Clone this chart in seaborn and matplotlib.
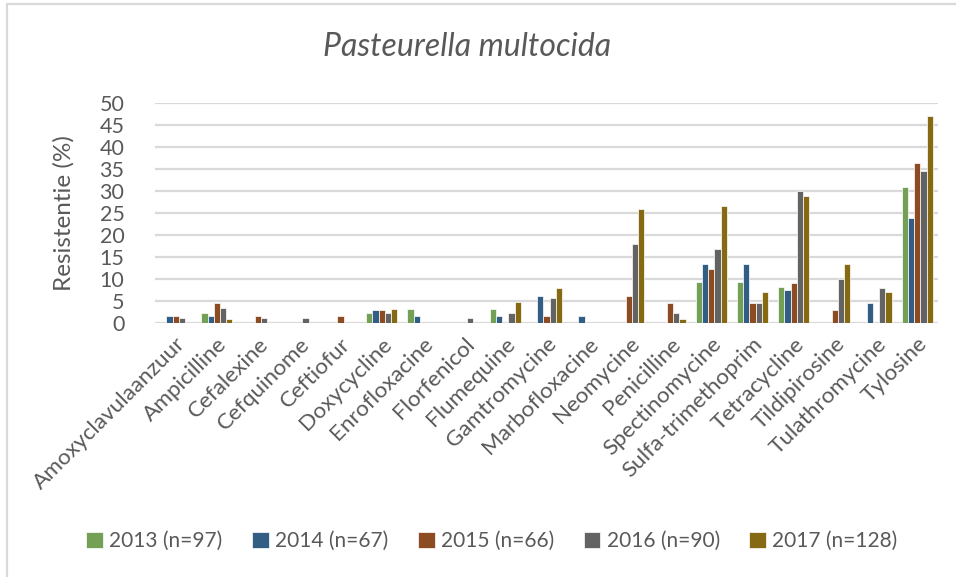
import numpy as np
import pandas as pd
import matplotlib
matplotlib.use("Agg")
import matplotlib.pyplot as plt
from matplotlib.lines import Line2D
import seaborn as sns

nan = np.nan
categories = ["Amoxyclavulaanzuur", "Ampicilline", "Cefalexine", "Cefquinome", "Ceftiofur",
              "Doxycycline", "Enrofloxacine", "Florfenicol", "Flumequine", "Gamtromycine",
              "Marbofloxacine", "Neomycine", "Penicilline", "Spectinomycine",
              "Sulfa-trimethoprim", "Tetracycline", "Tildipirosine", "Tulathromycine", "Tylosine"]
series_labels = ["2013 (n=97)", "2014 (n=67)", "2015 (n=66)", "2016 (n=90)", "2017 (n=128)"]
v2013 = [nan, 2.1, nan, nan, nan, 2.1, 3.1, nan, 3.1, nan, nan, nan, nan, 9.3, 9.3, 8.2, nan, nan, 30.9]
v2014 = [1.5, 1.5, nan, nan, nan, 3.0, 1.5, nan, 1.5, 6.0, 1.5, nan, nan, 13.4, 13.4, 7.5, nan, 4.5, 23.9]
v2015 = [1.5, 4.5, 1.5, nan, 1.5, 3.0, nan, nan, nan, 1.5, nan, 6.1, 4.5, 12.1, 4.5, 9.1, 3.0, nan, 36.4]
v2016 = [1.1, 3.3, 1.1, 1.1, nan, 2.2, nan, 1.1, 2.2, 5.6, nan, 17.8, 2.2, 16.7, 4.4, 30.0, 10.0, 7.8, 34.4]
v2017 = [nan, 0.8, nan, nan, nan, 3.1, nan, nan, 4.7, 7.8, nan, 25.8, 0.8, 26.6, 7.0, 28.9, 13.3, 7.0, 46.9]
colors = ["#70AD47", "#255E91", "#9E480E", "#636363", "#997300"]
yticks = [0, 5, 10, 15, 20, 25, 30, 35, 40, 45, 50]

rows = []
for lab, vals in zip(series_labels, [v2013, v2014, v2015, v2016, v2017]):
    for c, v in zip(categories, vals):
        rows.append({"cat": c, "year": lab, "val": v})
df = pd.DataFrame(rows)

sns.set_theme(style="white")
plt.rcParams["font.family"] = ["Lato", "DejaVu Sans"]
txt = "#595959"

fig = plt.figure(figsize=(9.56, 5.77), dpi=100)
ax = fig.add_axes([155/956, 1-322.7/577, (938-155)/956, 220/577])

sns.barplot(data=df, x="cat", y="val", hue="year", order=categories, hue_order=series_labels,
            palette=colors, width=0.75, errorbar=None, ax=ax, edgecolor="white", linewidth=0.5,
            legend=True, zorder=3)

ax.set_ylim(0, 50)
ax.set_xlim(-0.5, len(categories) - 0.5)
ax.set_yticks(yticks)
ax.set_yticklabels([str(t) for t in yticks], fontsize=15.5, color=txt)
ax.yaxis.grid(True, color="#D9D9D9", linewidth=1.6, zorder=0)
ax.set_axisbelow(True)
for s in ax.spines.values():
    s.set_visible(False)
ax.tick_params(axis="both", length=0)
ax.tick_params(axis="y", pad=22)
ax.set_xlabel("")
ax.set_ylabel("Resistentie (%)", fontsize=17.5, color=txt, labelpad=18)
ax.set_xticks(range(len(categories)))
ax.set_xticklabels(categories, rotation=45, ha="right", rotation_mode="anchor",
                   fontsize=16.2, color=txt)
ax.tick_params(axis="x", pad=8)

handles, labels = ax.get_legend_handles_labels()
ax.legend_.remove()
fig.legend(handles, labels, loc="center", bbox_to_anchor=(492/956, 1-541/577), ncol=5,
           frameon=False, fontsize=15, labelcolor=txt, handlelength=0.8, handleheight=0.8,
           handletextpad=0.3, columnspacing=1.42)

fig.text(467/956, 1-47/577, "Pasteurella multocida", ha="center", va="center",
         fontsize=23, style="italic", color=txt)

fig.add_artist(Line2D([7/956, 7/956], [0, 1-4/577], transform=fig.transFigure,
                      color="#D9D9D9", linewidth=1.6))
fig.add_artist(Line2D([7/956, 1], [1-4/577, 1-4/577], transform=fig.transFigure,
                      color="#D9D9D9", linewidth=1.6))

fig.savefig("out.png", dpi=100, facecolor="white")
